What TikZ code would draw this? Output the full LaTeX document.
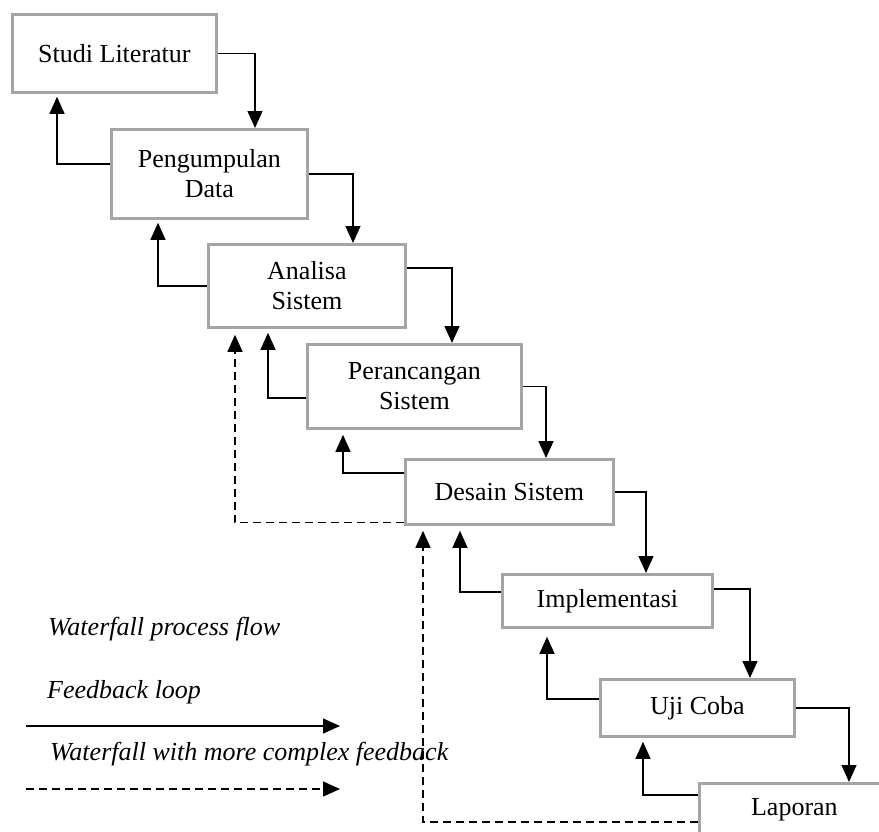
\documentclass[tikz,border=0pt]{standalone}
\usepackage{fontspec}
\setmainfont{Liberation Serif}
\usetikzlibrary{arrows.meta}
\definecolor{boxgray}{RGB}{165,165,165}
\tikzset{
  stage/.style={draw=boxgray, line width=2.8pt, fill=white, anchor=north west, align=center, inner sep=0pt,
                font=\fontsize{26}{30}\selectfont},
  flow/.style={line width=1.3pt, -{Triangle[length=17pt,width=15pt]}},
  fb/.style={flow},
  cfb/.style={flow, dash pattern=on 8pt off 5pt},
  legtext/.style={anchor=base west, inner sep=0pt, font=\fontsize{26}{30}\selectfont\itshape}
}
\begin{document}
\begin{tikzpicture}[x=1pt,y=-1pt]
\useasboundingbox (0,0) rectangle (879,831);
\clip (0,0) rectangle (879,831);

% stages
\node[stage, minimum width=204pt, minimum height=78pt] (studi) at (11,13) {Studi Literatur};
\node[stage, minimum width=196pt, minimum height=89pt] (pengu) at (110,128) {Pengumpulan\\Data};
\node[stage, minimum width=197pt, minimum height=83pt] (analisa) at (207,243) {Analisa\\Sistem};
\node[stage, minimum width=214pt, minimum height=84pt] (peranc) at (306,343) {Perancangan\\Sistem};
\node[stage, minimum width=208pt, minimum height=65pt] (desain) at (404,458) {Desain Sistem};
\node[stage, minimum width=210pt, minimum height=53pt] (impl) at (501,573) {Implementasi};
\node[stage, minimum width=194pt, minimum height=57pt] (uji) at (599,678) {Uji Coba};
\node[stage, minimum width=190pt, minimum height=53pt] (lapor) at (698,782) {Laporan};

% waterfall flow
\draw[flow] (studi.east) -| ([xshift=145pt]pengu.north west);
\draw[flow] (pengu.east) -| ([xshift=146pt]analisa.north west);
\draw[flow] ([yshift=-25pt]analisa.north east) -| ([xshift=146pt]peranc.north west);
\draw[flow] (peranc.east) -| ([xshift=142pt]desain.north west);
\draw[flow] (desain.east) -| ([xshift=145pt]impl.north west);
\draw[flow] ([yshift=-16pt]impl.north east) -| ([xshift=151pt]uji.north west);
\draw[flow] ([yshift=-30pt]uji.north east) -| ([xshift=151pt]lapor.north west);

% feedback loops
\draw[fb] ([yshift=-36pt]pengu.north west) -| ([xshift=46pt,yshift=-3pt]studi.south west);
\draw[fb] (analisa.west) -| ([xshift=48pt,yshift=-3pt]pengu.south west);
\draw[fb] ([yshift=-55pt]peranc.north west) -| ([xshift=61pt,yshift=-4pt]analisa.south west);
\draw[fb] ([yshift=-15pt]desain.north west) -| ([xshift=37pt,yshift=-5pt]peranc.south west);
\draw[fb] ([yshift=-19pt]impl.north west) -| ([xshift=56pt,yshift=-5pt]desain.south west);
\draw[fb] ([yshift=-21pt]uji.north west) -| ([xshift=46pt,yshift=-8pt]impl.south west);
\draw[fb] ([yshift=-13pt]lapor.north west) -| ([xshift=44pt,yshift=-4pt]uji.south west);

% complex feedback
\draw[cfb] ([yshift=3pt]desain.south west) -| ([xshift=28pt,yshift=-6pt]analisa.south west);
\draw[cfb] ([yshift=-40pt]lapor.north west) -| ([xshift=19pt,yshift=-5pt]desain.south west);

% legend
\node[legtext] (l1) at (48,635) {Waterfall process flow};
\node[legtext] (l2) at (47,698) {Feedback loop};
\node[legtext] (l3) at (50,760) {Waterfall with more complex feedback};
\coordinate (s1) at (26,726);
\coordinate (e1) at (340,726);
\coordinate (s2) at (26,789);
\coordinate (e2) at (340,789);
\draw[flow] (s1) -- (e1);
\draw[cfb] (s2) -- (e2);
\end{tikzpicture}
\end{document}
